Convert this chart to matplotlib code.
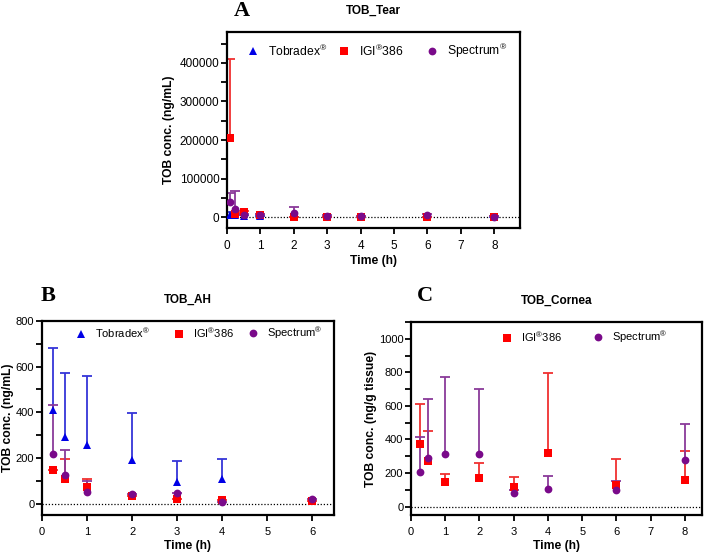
import numpy as np
import matplotlib
matplotlib.use("Agg")
import matplotlib.pyplot as plt
from matplotlib.ticker import MultipleLocator
from matplotlib.lines import Line2D
from matplotlib.legend import Legend

plt.rcParams['font.family'] = ['Liberation Sans', 'DejaVu Sans']
plt.rcParams['mathtext.fontset'] = 'custom'
plt.rcParams['mathtext.rm'] = 'Liberation Sans'

# ---------------- data ----------------
# Panel A: TOB_Tear
tear_time = [0.083, 0.25, 0.5, 1, 2, 3, 4, 6, 8]
tear_tobradex = [6000, 5000, 3000, 2000, 1000, 500, 300, 200, 100]
tear_tobradex_up = [14000, 9000, 5000, 3000, 1500, 800, 500, 300, 200]
tear_igi = [205000, 8000, 14000, 6000, 500, 1000, 500, 500, 1500]
tear_igi_up = [410000, 12000, 17000, 8000, 1000, 1500, 800, 800, 2500]
tear_spec = [40000, 20000, 5000, 5000, 10000, 4000, 3000, 5000, 1000]
tear_spec_up = [63000, 68000, 7000, 7000, 27000, 6000, 4000, 7000, 2000]

# Panel B: TOB_AH
ah_time = [0.25, 0.5, 1, 2, 3, 4, 6]
ah_tobradex = [410, 292, 255, 190, 93, 108, np.nan]
ah_tobradex_up = [680, 570, 560, 395, 185, 195, np.nan]
ah_igi = [148, 108, 71, 35, 20, 17, 10]
ah_igi_up = [148, 195, 108, 35, 20, 17, 10]
ah_spec = [218, 127, 52, 40, 47, 6, 20]
ah_spec_up = [430, 235, 100, 40, 47, 6, 20]

# Panel C: TOB_Cornea
co_time = [0.25, 0.5, 1, 2, 3, 4, 6, 8]
co_igi = [375, 269, 148, 168, 115, 322, 126, 158]
co_igi_up = [610, 449, 194, 259, 178, 798, 281, 334]
co_spec = [209, 292, 312, 312, 81, 107, 97, 277]
co_spec_up = [415, 642, 771, 698, 100, 182, 154, 490]

C_BLUE = '#0000E6'
C_BLUE_E = '#3535D8'
C_RED = '#FF0000'
C_RED_E = '#F03030'
C_PUR = '#7A0A8A'
C_PUR_E = '#8A3A9A'

LBL_T = r'Tobradex$^{\circledR}$'
LBL_I = r'IGI$^{\circledR}$386'
LBL_S = r'Spectrum$^{\circledR}$'

MS_T, MS_S, MS_O = 5.8, 5.2, 5.6

W, H = 705, 556
fig = plt.figure(figsize=(W / 100, H / 100), dpi=100)


def add_ax(box):
    l, r, t, b = box
    return fig.add_axes([l / W, 1 - b / H, (r - l) / W, (b - t) / H])


def series(ax, x, y, up, color, ecolor, marker, ms):
    x = np.asarray(x, float)
    y = np.asarray(y, float)
    up = np.asarray(up, float)
    yerr = np.vstack([np.zeros_like(y), np.clip(up - y, 0, None)])
    cont = ax.errorbar(x, y, yerr=yerr, fmt='none', ecolor=ecolor,
                       elinewidth=1.3, capsize=3.3, capthick=1.3, zorder=2)
    caps = cont.lines[1]
    if len(caps) >= 2:
        caps[0].set_visible(False)   # hide the lower caps (upper error only)
    ax.plot(x, y, linestyle='none', marker=marker, color=color, ms=ms,
            markeredgewidth=0, zorder=3)


def style(ax, xmax, xticks, ylim, ymaj, ymin, ylabel, title, letter,
          letter_xy, fs, lpad):
    ax.set_xlim(0, xmax)
    ax.set_xticks(xticks)
    ax.set_ylim(*ylim)
    ax.yaxis.set_major_locator(MultipleLocator(ymaj))
    ax.yaxis.set_minor_locator(MultipleLocator(ymin))
    ax.axhline(0, color='black', lw=0.9, ls=(0, (1, 1.5)), zorder=1)
    for s in ax.spines.values():
        s.set_linewidth(1.6)
    ax.tick_params(which='both', direction='out', length=4.3, width=1.3,
                   labelsize=fs)
    ax.tick_params(axis='y', which='both', pad=1.2)
    ax.tick_params(axis='x', which='both', pad=4.5)
    ax.set_xlabel('Time (h)', fontsize=8.7, fontweight='bold', labelpad=2)
    ax.set_ylabel(ylabel, fontsize=8.7, fontweight='bold', labelpad=lpad)
    ax.set_title(title, fontsize=8.5, fontweight='bold', pad=13)
    fig.text(letter_xy[0] / W, 1 - letter_xy[1] / H, letter,
             family='Liberation Serif', fontweight='bold', fontsize=16,
             ha='center', va='center')


def legend_items(ax, box, items, fs):
    # items: (label, marker, color, ms, x_px, y_px) -- legend entry centres
    l, r, t, b = box
    hl = 1.0
    for label, marker, color, ms, xp, yp in items:
        h = Line2D([], [], linestyle='none', marker=marker, color=color,
                   ms=ms, markeredgewidth=0)
        half = 0.5 * hl * fs * 100 / 72
        xa = (xp - half - l) / (r - l)
        ya = (b - yp) / (b - t)
        leg = Legend(ax, [h], [label], loc='center left',
                     bbox_to_anchor=(xa, ya), frameon=False, fontsize=fs,
                     borderaxespad=0, borderpad=0, handlelength=hl,
                     handletextpad=0.75)
        ax.add_artist(leg)


BOX_A = (227, 520, 32, 228)
BOX_B = (42, 334, 321, 515)
BOX_C = (411, 702, 322, 515)

# ---------------- Panel A ----------------
axA = add_ax(BOX_A)
series(axA, tear_time, tear_tobradex, tear_tobradex_up, C_BLUE, C_BLUE_E, '^', MS_T)
series(axA, tear_time, tear_igi, tear_igi_up, C_RED, C_RED_E, 's', MS_S)
series(axA, tear_time, tear_spec, tear_spec_up, C_PUR, C_PUR_E, 'o', MS_O)
style(axA, 8.77, range(0, 9), (-28000, 480000), 100000, 50000,
      'TOB conc. (ng/mL)', 'TOB_Tear', 'A', (242, 11), 8.5, 3)
legend_items(axA, BOX_A, [
    (LBL_T, '^', C_BLUE, MS_T, 253, 51),
    (LBL_I, 's', C_RED, MS_S, 344, 51),
    (LBL_S, 'o', C_PUR, MS_O, 432, 51)], 8.7)

# ---------------- Panel B ----------------
axB = add_ax(BOX_B)
series(axB, ah_time, ah_tobradex, ah_tobradex_up, C_BLUE, C_BLUE_E, '^', MS_T)
series(axB, ah_time, ah_igi, ah_igi_up, C_RED, C_RED_E, 's', MS_S)
series(axB, ah_time, ah_spec, ah_spec_up, C_PUR, C_PUR_E, 'o', MS_O)
style(axB, 6.48, range(0, 7), (-50, 800), 200, 100,
      'TOB conc. (ng/mL)', 'TOB_AH', 'B', (48, 296), 8, 1.5)
legend_items(axB, BOX_B, [
    (LBL_T, '^', C_BLUE, MS_T, 81, 333),
    (LBL_I, 's', C_RED, MS_S, 179, 333),
    (LBL_S, 'o', C_PUR, MS_O, 253, 333)], 8)

# ---------------- Panel C ----------------
axC = add_ax(BOX_C)
series(axC, co_time, co_igi, co_igi_up, C_RED, C_RED_E, 's', MS_S)
series(axC, co_time, co_spec, co_spec_up, C_PUR, C_PUR_E, 'o', MS_O)
style(axC, 8.5, range(0, 9), (-50, 1100), 200, 100,
      'TOB conc. (ng/g tissue)', 'TOB_Cornea', 'C', (425, 296), 8, 1.5)
legend_items(axC, BOX_C, [
    (LBL_I, 's', C_RED, MS_S, 507, 337),
    (LBL_S, 'o', C_PUR, MS_O, 598, 337)], 8)

fig.savefig('out.png', dpi=100)
